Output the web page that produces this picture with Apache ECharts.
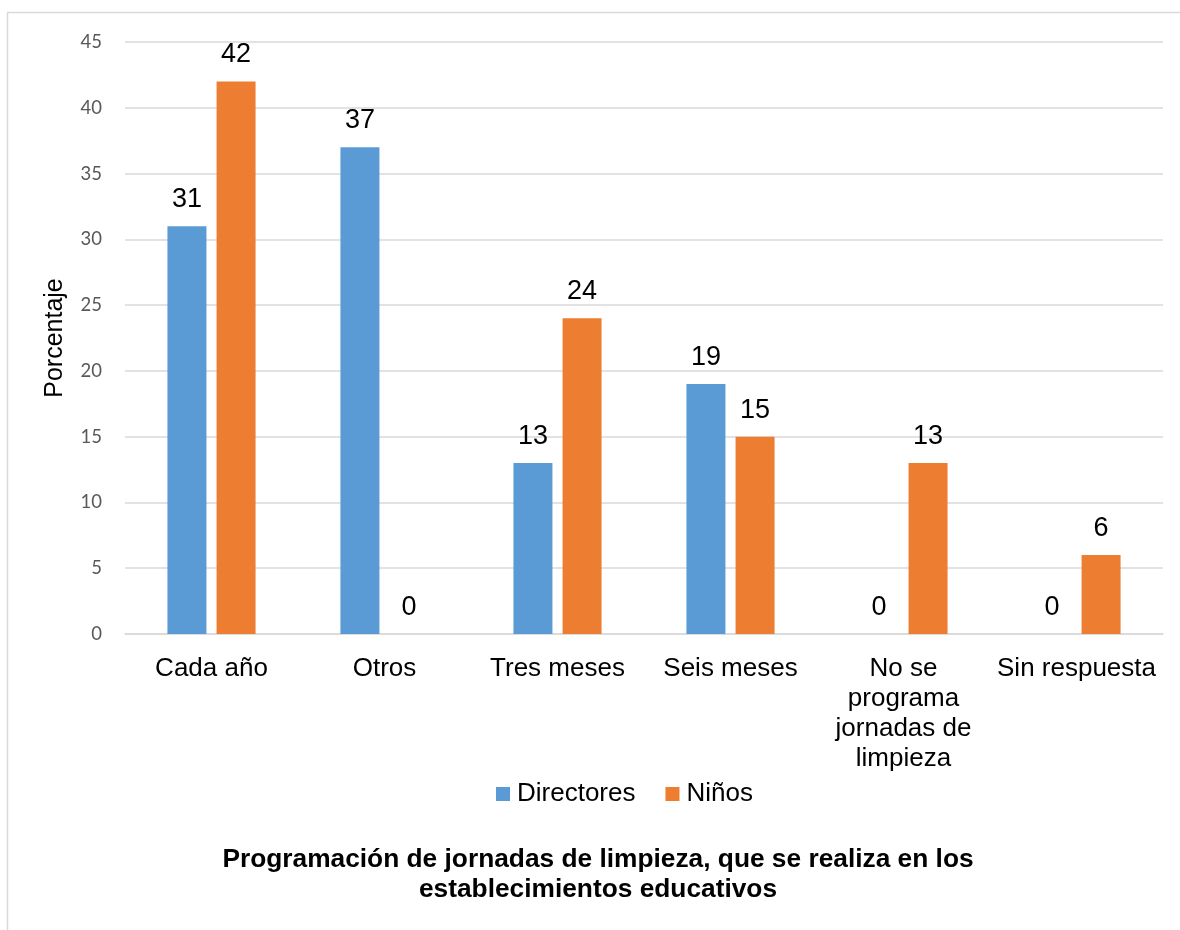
<!DOCTYPE html>
<html>
<head>
<meta charset="utf-8">
<style>
  html, body { margin: 0; padding: 0; background: #fff; }
  #chart { width: 1180px; height: 930px; }
</style>
<script src="https://cdn.jsdelivr.net/npm/echarts@6/dist/echarts.min.js"></script>
</head>
<body>
<div id="chart"></div>
<script>
// Frequency of cleaning days scheduled in schools (percent)
const categories = ['Cada año', 'Otros', 'Tres meses', 'Seis meses', 'No se\nprograma\njornadas de\nlimpieza', 'Sin respuesta'];
const directores = [31, 37, 13, 19, 0, 0];
const ninos = [42, 0, 24, 15, 13, 6];
const seriesNames = ['Directores', 'Niños'];
const yTicks = { min: 0, max: 45, interval: 5 };

const chart = echarts.init(document.getElementById('chart'), null, { renderer: 'canvas' });

const ARIAL = 'Liberation Sans, Arial, sans-serif';

const valueLabel = {
  show: true,
  position: 'top',
  distance: 13,
  color: '#000',
  fontFamily: ARIAL,
  fontSize: 27
};

chart.setOption({
  animation: false,
  backgroundColor: '#fff',
  graphic: [{
    type: 'rect',
    shape: { x: 7.5, y: 12.5, width: 1200, height: 1000 },
    style: { fill: 'none', stroke: '#d9d9d9', lineWidth: 1.5 },
    silent: true
  }],
  title: {
    text: 'Programación de jornadas de limpieza, que se realiza en los\nestablecimientos educativos',
    left: 593,
    top: 840,
    textAlign: 'center',
    textStyle: {
      fontFamily: ARIAL,
      fontWeight: 'bold',
      fontSize: 26.3,
      lineHeight: 30,
      color: '#000'
    }
  },
  legend: {
    data: seriesNames,
    left: 491,
    top: 776,
    itemWidth: 14,
    itemHeight: 14,
    itemGap: 30,
    icon: 'rect',
    textStyle: {
      fontFamily: ARIAL,
      fontSize: 26,
      color: '#000',
      padding: [0, 0, 0, 2]
    }
  },
  grid: { left: 125, right: 17, top: 42, bottom: 296, containLabel: false },
  xAxis: {
    type: 'category',
    data: categories,
    axisLine: { show: true, lineStyle: { color: '#d9d9d9', width: 1.5 } },
    axisTick: { show: false },
    axisLabel: {
      interval: 0,
      margin: 20,
      color: '#000',
      fontFamily: ARIAL,
      fontSize: 26,
      lineHeight: 30
    }
  },
  yAxis: {
    type: 'value',
    min: yTicks.min,
    max: yTicks.max,
    interval: yTicks.interval,
    name: 'Porcentaje',
    nameLocation: 'middle',
    nameGap: 57,
    nameRotate: 90,
    nameTextStyle: {
      fontFamily: ARIAL,
      fontSize: 25,
      color: '#000'
    },
    axisLine: { show: false },
    axisTick: { show: false },
    splitLine: { lineStyle: { color: '#d9d9d9', width: 1.5 } },
    axisLabel: {
      margin: 23,
      color: '#595959',
      fontFamily: 'Lato, sans-serif',
      fontSize: 18.5
    }
  },
  series: [
    {
      name: seriesNames[0],
      type: 'bar',
      data: directores,
      barWidth: 39,
      barGap: '26%',
      itemStyle: { color: '#5b9bd5' },
      label: valueLabel
    },
    {
      name: seriesNames[1],
      type: 'bar',
      data: ninos,
      barWidth: 39,
      itemStyle: { color: '#ed7d31' },
      label: valueLabel
    }
  ]
});
</script>
</body>
</html>
